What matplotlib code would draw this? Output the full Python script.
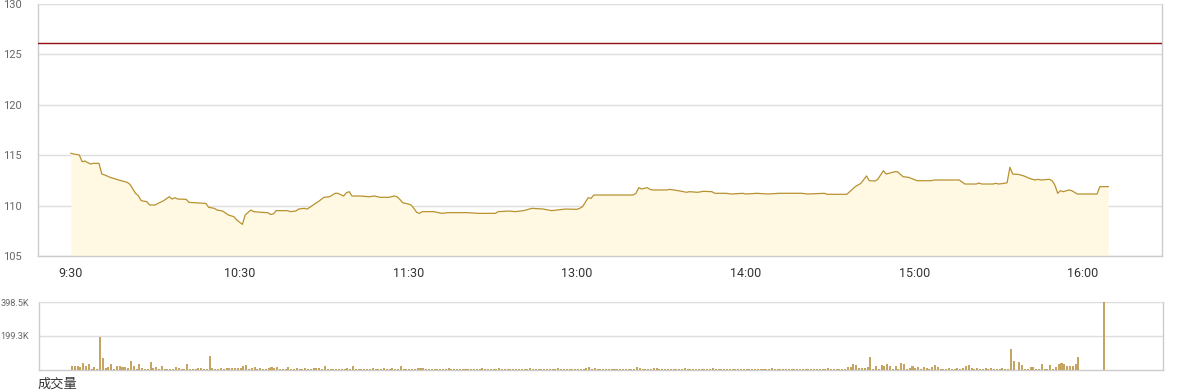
import matplotlib
matplotlib.use('Agg')
import matplotlib.pyplot as plt

# ---------------- data ----------------
price_minutes = [0, 1, 3, 4, 5, 6, 7, 8, 10, 11, 12, 14, 17, 20, 21, 23, 24, 25, 27, 28,
                 30, 31, 33, 35, 36, 37, 38, 41, 42, 44, 48, 49, 51, 52, 54, 56, 58, 59, 61, 62,
                 64, 65, 68, 70, 71, 72, 73, 77, 78, 80, 81, 83, 84, 85, 87, 88, 90, 92, 94, 95,
                 97, 98, 99, 100, 103, 106, 108, 110, 113, 115, 116, 117, 118, 120, 121, 122, 123, 124, 125, 129,
                 132, 134, 141, 145, 151, 152, 156, 158, 161, 163, 164, 168, 171, 173, 176, 180, 181, 182, 184, 185,
                 186, 200, 201, 202, 203, 205, 206, 207, 212, 213, 216, 219, 220, 223, 225, 228, 229, 233, 235, 239,
                 240, 244, 248, 252, 260, 262, 268, 269, 276, 277, 279, 280, 281, 283, 284, 286, 287, 289, 290, 293,
                 294, 296, 298, 301, 306, 307, 316, 318, 322, 323, 324, 328, 329, 330, 332, 333, 334, 335, 337, 339,
                 341, 342, 343, 344, 345, 348, 349, 350, 351, 352, 353, 355, 356, 358, 365, 366, 369]
price_values = [115.19, 115.12, 115.02, 114.36, 114.42, 114.26, 114.13, 114.19, 114.19, 113.13,
                113.04, 112.80, 112.54, 112.31, 112.11, 111.22, 110.98, 110.49, 110.39, 110.06,
                110.06, 110.22, 110.49, 110.88, 110.65, 110.78, 110.65, 110.62, 110.32, 110.29,
                110.22, 109.83, 109.73, 109.56, 109.46, 109.07, 108.90, 108.57, 108.14, 109.07,
                109.56, 109.40, 109.33, 109.30, 109.13, 109.17, 109.50, 109.50, 109.40, 109.46,
                109.66, 109.73, 109.66, 109.83, 110.22, 110.39, 110.82, 110.88, 111.22, 111.22,
                110.95, 111.28, 111.38, 110.95, 110.95, 110.88, 110.95, 110.82, 110.82, 110.95,
                110.88, 110.62, 110.29, 110.16, 110.06, 109.73, 109.33, 109.23, 109.40, 109.40,
                109.23, 109.30, 109.30, 109.23, 109.23, 109.40, 109.46, 109.40, 109.50, 109.66,
                109.73, 109.66, 109.50, 109.56, 109.66, 109.63, 109.73, 109.90, 110.78, 110.72,
                111.05, 111.05, 111.22, 111.78, 111.65, 111.78, 111.61, 111.55, 111.55, 111.61,
                111.48, 111.32, 111.38, 111.32, 111.42, 111.38, 111.22, 111.22, 111.15, 111.22,
                111.15, 111.22, 111.15, 111.22, 111.22, 111.15, 111.22, 111.12, 111.12, 111.38,
                111.88, 112.04, 112.21, 112.94, 112.47, 112.44, 112.61, 113.46, 113.13, 113.36,
                113.36, 112.87, 112.80, 112.47, 112.47, 112.54, 112.54, 112.14, 112.14, 112.24,
                112.14, 112.14, 112.21, 112.14, 112.21, 112.27, 113.80, 113.13, 113.10, 112.94,
                112.70, 112.61, 112.54, 112.61, 112.54, 112.61, 112.47, 112.04, 111.22, 111.48,
                111.38, 111.55, 111.48, 111.15, 111.15, 111.88, 111.88]
prev_close = 126.1

# per-minute volume in thousands, minutes 0..358
volume_k = [
    23, 23, 23, 18, 41, 23, 35, 6, 18, 6,
    194, 70, 12, 18, 35, 6, 23, 23, 18, 18,
    12, 53, 23, 6, 35, 12, 6, 6, 47, 12,
    18, 6, 23, 6, 6, 6, 6, 18, 12, 6,
    6, 35, 6, 6, 6, 12, 12, 6, 6, 82,
    12, 6, 6, 12, 6, 12, 12, 12, 12, 12,
    12, 23, 29, 6, 12, 18, 6, 12, 6, 6,
    12, 18, 12, 18, 6, 6, 6, 18, 6, 6,
    12, 6, 6, 12, 6, 6, 12, 12, 12, 6,
    23, 6, 6, 6, 6, 6, 6, 6, 12, 6,
    23, 6, 6, 6, 6, 6, 6, 12, 6, 6,
    6, 12, 6, 6, 12, 6, 6, 23, 6, 6,
    6, 6, 6, 12, 12, 12, 6, 6, 6, 6,
    6, 6, 6, 6, 12, 6, 6, 6, 6, 6,
    6, 6, 6, 6, 6, 6, 12, 6, 6, 6,
    6, 6, 12, 6, 6, 6, 6, 6, 6, 6,
    6, 6, 6, 12, 6, 6, 6, 6, 6, 6,
    6, 6, 6, 12, 6, 6, 6, 6, 6, 6,
    6, 6, 6, 12, 18, 6, 12, 6, 6, 6,
    6, 6, 6, 6, 6, 6, 6, 6, 6, 6,
    6, 18, 12, 6, 6, 6, 6, 12, 12, 6,
    6, 6, 6, 6, 6, 6, 6, 6, 12, 6,
    6, 6, 6, 6, 6, 6, 6, 6, 12, 6,
    6, 6, 6, 6, 6, 6, 6, 6, 6, 6,
    6, 6, 6, 6, 6, 6, 6, 6, 6, 12,
    6, 6, 6, 6, 6, 6, 6, 6, 6, 6,
    6, 6, 6, 6, 6, 6, 6, 6, 6, 12,
    6, 6, 6, 6, 6, 6, 18,
    18, 35, 29, 12, 12, 12, 18, 76, 6, 23,
    6, 29, 23, 35, 23, 6, 23, 6, 41, 35,
    6, 12, 23, 12, 18, 6, 18, 12, 6, 18,
    29, 18, 6, 5, 6, 12, 6, 5, 12, 6,
    12, 23, 29, 12, 6, 12, 6, 6, 12, 6,
    12, 6, 6, 6, 12, 6, 6, 123, 53, 0,
    47, 29, 6, 6, 18, 18, 6, 6, 35, 6,
    6, 29, 6, 18, 35, 41, 35, 23, 23, 23, 35, 76,
]
closing_minute = 367
closing_volume_k = 398.5

tick_minutes = [0, 60, 120, 180, 240, 300, 360]
tick_labels = ['9:30', '10:30', '11:30', '13:00', '14:00', '15:00', '16:00']
price_ticks = [105, 110, 115, 120, 125, 130]
vol_ticks_k = [199.3, 398.5]
vol_tick_labels = ['199.3K', '398.5K']

# ---------------- style ----------------
W, H = 1180, 392
LINE = '#b8922e'
FILL = '#fff8e2'
BAR = '#c4a564'
GRID = '#dedede'
SPINE = '#cccccc'
NUM_FONT = ['Roboto', 'DejaVu Sans']

fig = plt.figure(figsize=(W / 100, H / 100), dpi=100)

def rect(l, t, r, b):
    return [l / W, 1 - b / H, (r - l) / W, (b - t) / H]

xlim = (-11.7, 388.1)

# ---- price panel ----
ax = fig.add_axes(rect(38, 4, 1162, 256))
ax.fill_between(price_minutes, price_values, 105, color=FILL, lw=0, zorder=1)
ax.plot(price_minutes, price_values, color=LINE, lw=0.9, zorder=3)
ax.axhline(prev_close, color='#8e1010', lw=1.0, zorder=4)
ax.set_xlim(*xlim)
ax.set_ylim(105, 130)
ax.set_yticks(price_ticks)
ax.set_yticklabels([str(v) for v in price_ticks], family=NUM_FONT)
ax.set_xticks(tick_minutes)
ax.set_xticklabels(tick_labels, family=NUM_FONT)
ax.tick_params(axis='y', length=0, pad=12, labelsize=8, labelcolor='#666666')
ax.tick_params(axis='x', length=0, pad=8, labelsize=9, labelcolor='#333333')
ax.grid(axis='y', color=GRID, lw=1, zorder=0)
ax.set_axisbelow(True)
for s in ['left', 'bottom', 'right']:
    ax.spines[s].set_color(SPINE)
    ax.spines[s].set_linewidth(1)
ax.spines['top'].set_color(GRID)

# ---- volume panel ----
av = fig.add_axes(rect(39, 302, 1163, 370))
vol_minutes = list(range(len(volume_k)))
av.bar(vol_minutes, volume_k, width=0.72, color=BAR, lw=0, zorder=3)
av.bar([closing_minute], [closing_volume_k], width=0.72, color=BAR, lw=0, zorder=3)
av.set_xlim(*xlim)
av.set_ylim(0, 398.5)
av.set_yticks(vol_ticks_k)
av.set_yticklabels(vol_tick_labels, family=NUM_FONT)
av.set_xticks([])
av.tick_params(axis='y', length=0, pad=7, labelsize=6.6, labelcolor='#666666')
av.grid(axis='y', color=GRID, lw=1, zorder=0)
av.set_axisbelow(True)
for s in ['left', 'bottom', 'right']:
    av.spines[s].set_color(SPINE)
    av.spines[s].set_linewidth(1)
av.spines['top'].set_color(GRID)

fig.text(38 / W, 1 - 384 / H, '成交量', fontsize=9.5, color='#333333',
         family=['Noto Sans CJK SC', 'DejaVu Sans'], va='center', ha='left')

fig.savefig('out.png', dpi=100)
